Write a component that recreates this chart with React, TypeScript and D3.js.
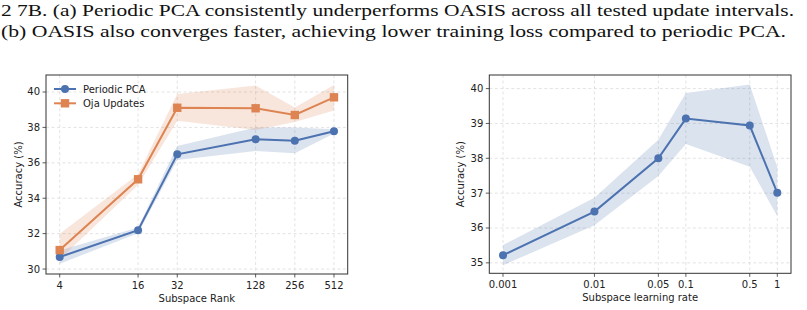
import * as d3 from 'd3';

// Left panel: accuracy vs subspace rank
const ranks = [4, 16, 32, 128, 256, 512];
const pcaMean = [30.68, 32.19, 36.48, 37.33, 37.25, 37.78];
const pcaLow = [30.3, 32.02, 36.16, 36.67, 36.54, 37.65];
const pcaHigh = [31.05, 32.35, 36.95, 38.0, 38.0, 37.9];
const ojaMean = [31.07, 35.07, 39.11, 39.08, 38.7, 39.7];
const ojaLow = [30.55, 34.75, 38.38, 37.85, 38.3, 38.95];
const ojaHigh = [32.0, 35.35, 39.89, 40.36, 39.13, 40.4];
const leftYTicks = [30, 32, 34, 36, 38, 40];

// Right panel: accuracy vs subspace learning rate
const rates = [0.001, 0.01, 0.05, 0.1, 0.5, 1];
const rateLabels = ['0.001', '0.01', '0.05', '0.1', '0.5', '1'];
const lrMean = [35.22, 36.47, 38.0, 39.14, 38.94, 37.01];
const lrLow = [34.93, 36.08, 37.49, 38.41, 37.76, 36.34];
const lrHigh = [35.51, 36.87, 38.53, 39.87, 40.12, 37.74];
const rightYTicks = [35, 36, 37, 38, 39, 40];

const captionLines = [
  '2 7B. (a) Periodic PCA consistently underperforms OASIS across all tested update intervals.',
  '(b) OASIS also converges faster, achieving lower training loss compared to periodic PCA.',
];

const BLUE = '#4c72b0';
const ORANGE = '#dd8452';
const FONT = 'DejaVu Sans, sans-serif';

type Series = { mean: number[]; low: number[]; high: number[]; color: string; marker: 'circle' | 'square' };

function Marker({ kind, cx, cy, color }: { kind: Series['marker']; cx: number; cy: number; color: string }) {
  return kind === 'circle'
    ? <circle cx={cx} cy={cy} r={4} fill={color} />
    : <rect x={cx - 4.2} y={cy - 4.2} width={8.4} height={8.4} fill={color} />;
}

function Panel(props: {
  x0: number; x1: number; y0: number; y1: number;
  xs: number[]; xDomain: [number, number]; xLabels: string[];
  yDomain: [number, number]; yTicks: number[];
  series: Series[]; xTitle: string; yTitleX: number;
  legend?: string[];
}) {
  const { x0, x1, y0, y1, xs, xDomain, xLabels, yDomain, yTicks, series } = props;
  const x = d3.scaleLog().domain(xDomain).range([x0, x1]);
  const y = d3.scaleLinear().domain(yDomain).range([y1, y0]);
  const line = d3.line<number>().x((_, i) => x(xs[i])).y((d) => y(d));

  return (
    <g>
      {/* grid */}
      {xs.map((v, i) => (
        <line key={'gx' + i} x1={x(v)} x2={x(v)} y1={y0} y2={y1}
          stroke="#dcdcdc" strokeWidth={0.8} strokeDasharray="3,2.5" />
      ))}
      {yTicks.map((v, i) => (
        <line key={'gy' + i} x1={x0} x2={x1} y1={y(v)} y2={y(v)}
          stroke="#dcdcdc" strokeWidth={0.8} strokeDasharray="3,2.5" />
      ))}
      {/* shaded spread */}
      {series.map((s, k) => {
        const band = d3.area<number>()
          .x((_, i) => x(xs[i]))
          .y0((_, i) => y(s.low[i]))
          .y1((_, i) => y(s.high[i]));
        return <path key={'b' + k} d={band(s.mean) || ''} fill={s.color} fillOpacity={0.2} />;
      })}
      {/* lines + markers */}
      {series.map((s, k) => (
        <g key={'s' + k}>
          <path d={line(s.mean) || ''} fill="none" stroke={s.color} strokeWidth={2} />
          {s.mean.map((v, i) => <Marker key={i} kind={s.marker} cx={x(xs[i])} cy={y(v)} color={s.color} />)}
        </g>
      ))}
      {/* frame */}
      <rect x={x0} y={y0} width={x1 - x0} height={y1 - y0} fill="none" stroke="#333" strokeWidth={1} />
      {/* x ticks */}
      {xs.map((v, i) => (
        <g key={'xt' + i}>
          <line x1={x(v)} x2={x(v)} y1={y1} y2={y1 + 3.5} stroke="#333" strokeWidth={0.8} />
          <text x={x(v)} y={y1 + 15} textAnchor="middle" fontSize={10} fontFamily={FONT} fill="#222">{xLabels[i]}</text>
        </g>
      ))}
      {/* y ticks */}
      {yTicks.map((v, i) => (
        <g key={'yt' + i}>
          <line x1={x0 - 3.5} x2={x0} y1={y(v)} y2={y(v)} stroke="#333" strokeWidth={0.8} />
          <text x={x0 - 6} y={y(v)} dy="0.35em" textAnchor="end" fontSize={10} fontFamily={FONT} fill="#222">{v}</text>
        </g>
      ))}
      <text x={(x0 + x1) / 2} y={y1 + 27.5} textAnchor="middle" fontSize={10} fontFamily={FONT} fill="#222">{props.xTitle}</text>
      <text transform={`translate(${props.yTitleX},${(y0 + y1) / 2}) rotate(-90)`} dy="0.35em"
        textAnchor="middle" fontSize={10} fontFamily={FONT} fill="#222">Accuracy (%)</text>
      {props.legend && props.legend.map((name, i) => {
        const s = series[i];
        const ly = y0 + 14 + i * 14.3;
        return (
          <g key={'lg' + i}>
            <line x1={x0 + 8} x2={x0 + 30} y1={ly} y2={ly} stroke={s.color} strokeWidth={2} />
            <Marker kind={s.marker} cx={x0 + 19} cy={ly} color={s.color} />
            <text x={x0 + 37} y={ly} dy="0.35em" fontSize={10} fontFamily={FONT} fill="#222">{name}</text>
          </g>
        );
      })}
    </g>
  );
}

export default function App() {
  const pad2 = 0.35;
  return (
    <svg width={807} height={310} style={{ position: 'absolute', left: 0, top: 0, background: '#fff' }}>
      {captionLines.map((t, i) => (
        <text key={i} x={1} y={16 + i * 21} fontSize={17.5} fontFamily="Liberation Serif, serif" fill="#111"
          textLength={i === 0 ? 793 : 785} lengthAdjust="spacingAndGlyphs">{t}</text>
      ))}
      <Panel x0={46} x1={347.7} y0={75} y1={274}
        xs={ranks} xDomain={[Math.pow(2, 2 - pad2), Math.pow(2, 9 + pad2)]}
        xLabels={ranks.map(String)}
        yDomain={[29.72, 40.96]} yTicks={leftYTicks}
        series={[
          { mean: pcaMean, low: pcaLow, high: pcaHigh, color: BLUE, marker: 'circle' },
          { mean: ojaMean, low: ojaLow, high: ojaHigh, color: ORANGE, marker: 'square' },
        ]}
        xTitle="Subspace Rank" yTitleX={18.3}
        legend={['Periodic PCA', 'Oja Updates']} />
      <Panel x0={489.3} x1={791} y0={75} y1={273.3}
        xs={rates} xDomain={[Math.pow(10, -3.15), Math.pow(10, 0.15)]}
        xLabels={rateLabels}
        yDomain={[34.7, 40.39]} yTicks={rightYTicks}
        series={[{ mean: lrMean, low: lrLow, high: lrHigh, color: BLUE, marker: 'circle' }]}
        xTitle="Subspace learning rate" yTitleX={460.7} />
    </svg>
  );
}
